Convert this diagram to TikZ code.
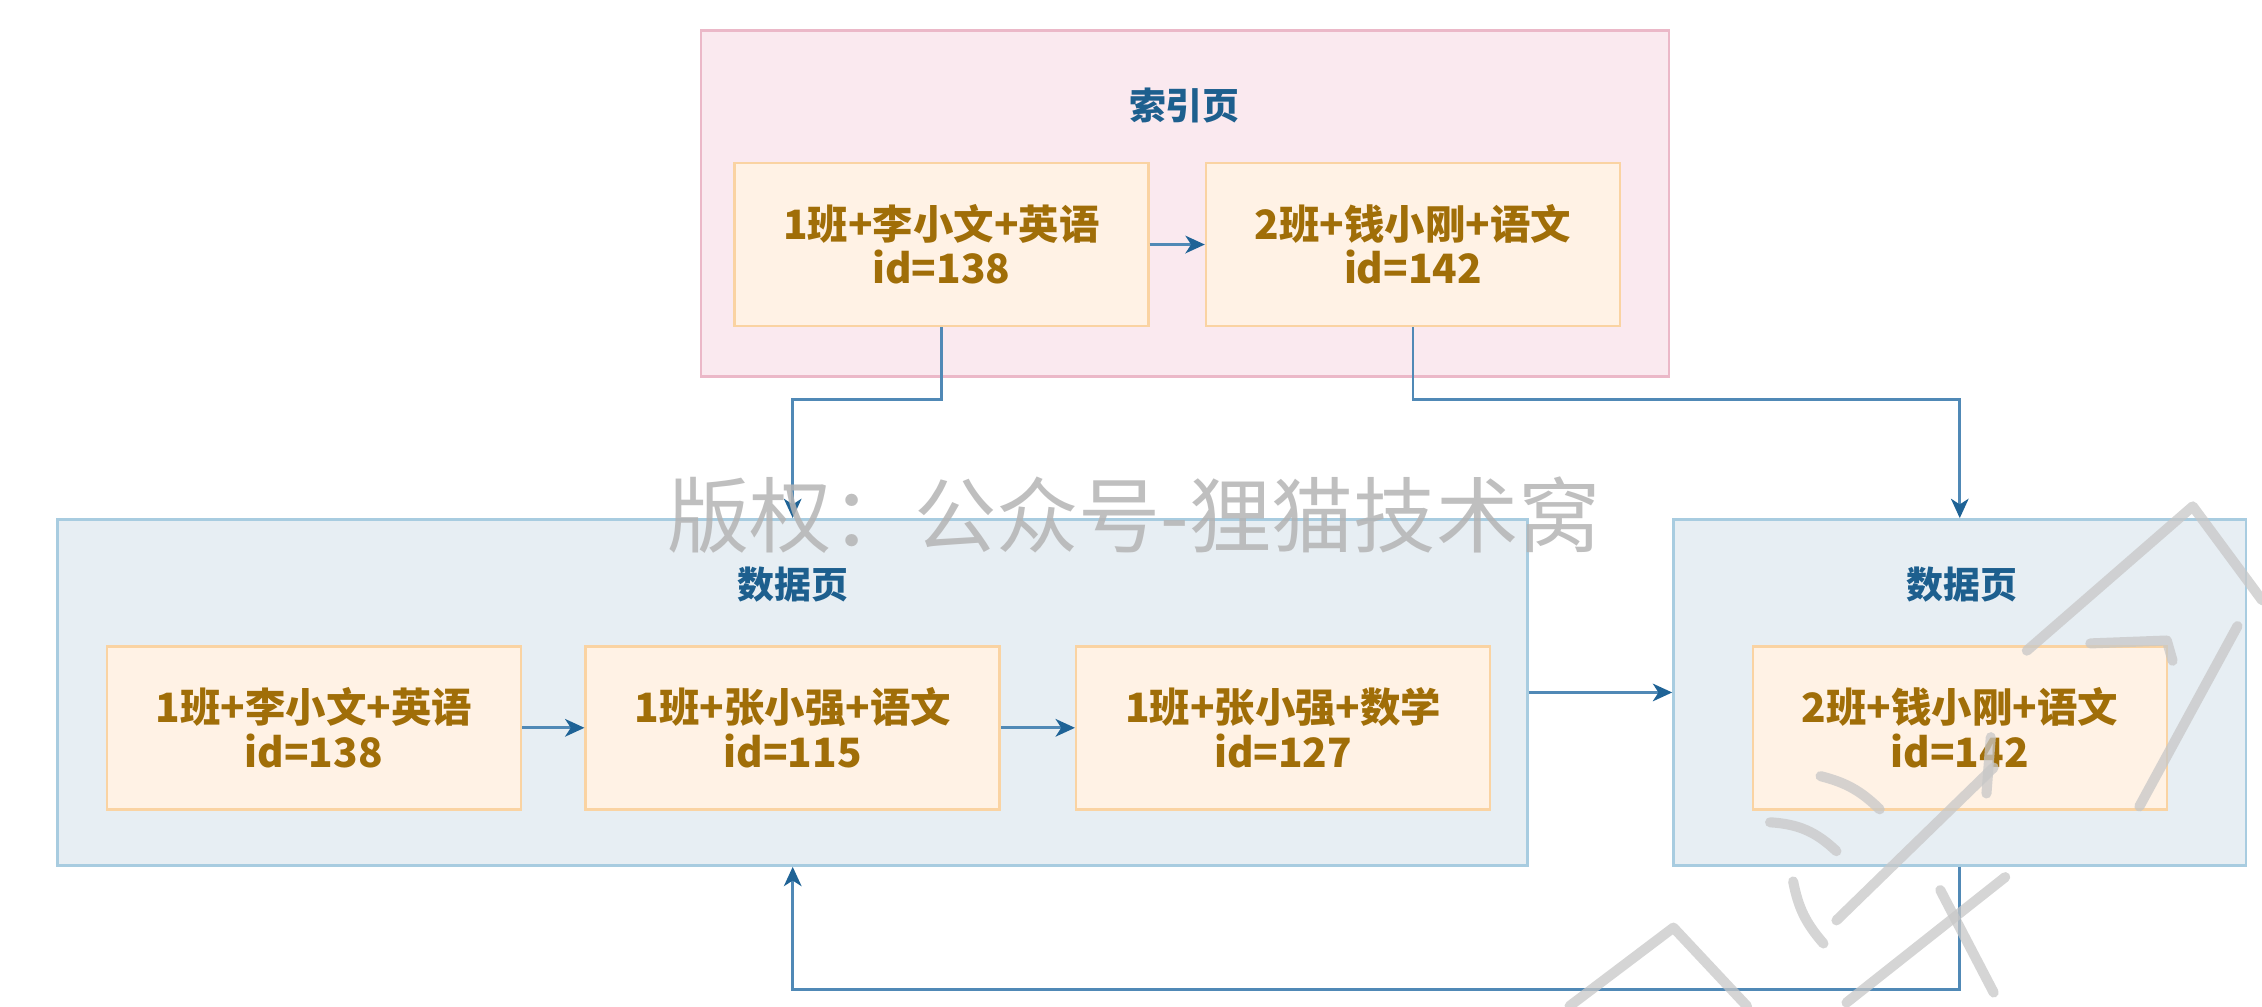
\documentclass[tikz,border=0pt]{standalone}
\usepackage{fontspec}
\setmainfont{Noto Sans CJK SC}
\usetikzlibrary{arrows.meta,positioning,calc}
\newlength\dpx
\setlength\dpx{0.14426mm}
\definecolor{idxfill}{HTML}{FAE9EF}
\definecolor{idxline}{HTML}{EBB8C8}
\definecolor{dpfill}{HTML}{E7EEF3}
\definecolor{dpline}{HTML}{A8CCE0}
\definecolor{itfill}{HTML}{FFF2E5}
\definecolor{itline}{HTML}{FAD3A2}
\definecolor{ittext}{HTML}{A06E08}
\definecolor{ttlblue}{HTML}{1D5F8E}
\definecolor{connline}{HTML}{5089B6}
\definecolor{conntip}{HTML}{1F6396}
\definecolor{wmgray}{HTML}{B4B4B4}
\tikzset{
  pagebox/.style={draw, line width=0.7pt, minimum width=#1, minimum height=240\dpx, inner sep=0pt},
  idxpage/.style={pagebox=671\dpx, fill=idxfill, draw=idxline},
  datapage/.style={pagebox=#1, fill=dpfill, draw=dpline},
  itembox/.style={draw=itline, fill=itfill, line width=0.7pt, minimum width=287\dpx, minimum height=113\dpx,
    inner sep=0pt, align=center, text=ittext, font=\bfseries\fontsize{11.5}{12.6}\selectfont},
  pagettl/.style={text=ttlblue, font=\bfseries\fontsize{10.5}{12}\selectfont, inner sep=0pt},
  conn/.style={draw=connline, line width=0.8pt, -{Stealth[length=5.5pt, width=5pt, inset=1.6pt, color=conntip, fill=conntip]}},
  wmtext/.style={text=wmgray, opacity=0.85, font=\fontsize{23.4}{26}\selectfont, inner sep=0pt},
  wmstroke/.style={draw=black!22, opacity=0.75, line width=7\dpx, line cap=round, line join=round}
}
\begin{document}
\begin{tikzpicture}[x=\dpx, y=-\dpx]
\useasboundingbox (0,0) rectangle (1568,697.4);
% index page
\node[idxpage] (idx) at (821.5,141) {};
\node[pagettl] (idxttl) at (821,73) {索引页};
\node[itembox] (A1) at (652.5,169.5) {1班+李小文+英语\\id=138};
\node[itembox] (A2) at (979.5,169.5) {2班+钱小刚+语文\\id=142};
% data pages
\node[datapage=1019\dpx] (dp1) at (549.5,480) {};
\node[pagettl] (dp1ttl) at (549.5,405) {数据页};
\node[itembox] (B1) at (217.5,504.5) {1班+李小文+英语\\id=138};
\node[itembox] (B2) at (549.5,504.5) {1班+张小强+语文\\id=115};
\node[itembox] (B3) at (889.5,504.5) {1班+张小强+数学\\id=127};
\node[datapage=397\dpx] (dp2) at (1358.5,480) {};
\node[pagettl] (dp2ttl) at (1360,405) {数据页};
\node[itembox] (C1) at (1358.5,504.5) {2班+钱小刚+语文\\id=142};
% connectors
\draw[conn] (A1.east) -- (A2.west);
\draw[conn] (B1.east) -- (B2.west);
\draw[conn] (B2.east) -- (B3.west);
\draw[conn] (dp1.east) -- (dp2.west);
\draw[conn] (A1.south) -- ++(0,50) -| (dp1.north);
\draw[conn] (A2.south) -- ++(0,50) -| (dp2.north);
\draw[conn] (dp2.south) -- ++(0,85) -| (dp1.south);
% watermark
\node[wmtext] (wm) at (786,357) {版权：公众号-狸猫技术窝};
\draw[wmstroke] (1405,451) -- (1520,351) -- (1568,416);
\draw[wmstroke] (1551,434) -- (1483,559);
\draw[wmstroke] (1449,446) -- (1502,444) -- (1506,458);
\draw[wmstroke] (1380,511) -- (1377,550);
\draw[wmstroke] (1088,697.4) -- (1160,643) -- (1211,697.4);
\draw[wmstroke] (1390,608) -- (1280,695);
\draw[wmstroke] (1382,532) -- (1273,638);
\draw[wmstroke] (1227,570) to[bend left=20] (1273,590);
\draw[wmstroke] (1262,538) to[bend left=15] (1303,561);
\draw[wmstroke] (1243,611) to[bend right=15] (1264,654);
\draw[wmstroke] (1345,617) -- (1382,688);
\end{tikzpicture}
\end{document}
